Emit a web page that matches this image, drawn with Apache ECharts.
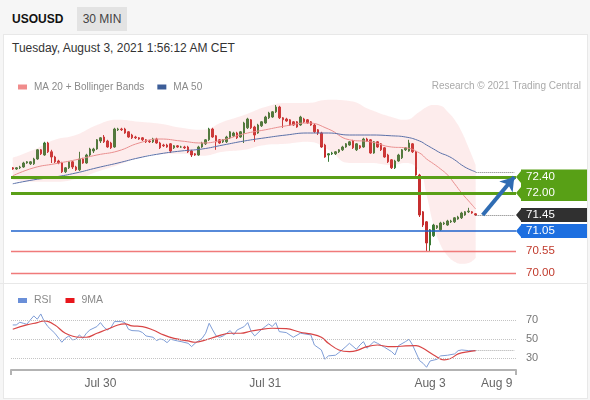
<!DOCTYPE html>
<html>
<head>
<meta charset="utf-8">
<title>USOUSD 30 MIN</title>
<script src="https://cdn.jsdelivr.net/npm/echarts@6.0.0/dist/echarts.min.js"></script>
<style>
  html, body { margin: 0; padding: 0; }
  body { width: 590px; height: 400px; position: relative; overflow: hidden; background: #f6f6f6;
         font-family: 'Liberation Sans', Arial, sans-serif; }
  .sym { position: absolute; left: 12px; top: 12px; font-size: 12px; font-weight: bold; color: #111; }
  .tf { position: absolute; left: 77px; top: 7px; width: 50px; height: 24px; line-height: 24px;
        text-align: center; background: #e3e3e3; color: #444; font-size: 12px; }
  .panel { position: absolute; left: 3px; top: 34px; width: 583px; height: 363px; background: #fff;
           border: 1px solid #e8e8e8; }
  .sep { position: absolute; left: 0; top: 283px; width: 587px; height: 1px; background: #e8e8e8; }
  .date { position: absolute; left: 12px; top: 41px; font-size: 12px; color: #333; }
  #chart { position: absolute; left: 0; top: 0; width: 590px; height: 400px; }
</style>
</head>
<body>
<div class="panel"></div>
<div class="sep"></div>
<div class="sym">USOUSD</div>
<div class="tf">30 MIN</div>
<div class="date">Tuesday, August 3, 2021 1:56:12 AM CET</div>
<div id="chart"></div>
<script>
// 30 min candles: [open, close, low, high]
const candles = [
  [72.63,72.60,72.58,72.65],[72.60,72.63,72.58,72.65],[72.63,72.65,72.60,72.68],[72.65,72.75,72.63,72.78],
  [72.75,72.78,72.73,72.80],[72.73,72.78,72.70,72.80],[72.73,72.85,72.70,72.88],[72.85,73.08,72.83,73.10],
  [73.08,72.98,72.95,73.10],[72.95,73.25,72.93,73.28],[73.25,73.03,73.00,73.28],[73.03,72.90,72.75,73.08],
  [72.90,72.78,72.75,72.93],[72.80,72.75,72.72,72.83],[72.75,72.53,72.50,72.78],[72.53,72.63,72.50,72.65],
  [72.63,72.78,72.60,72.80],[72.78,72.65,72.60,72.80],[72.65,72.58,72.55,72.68],[72.58,72.85,72.55,73.03],
  [72.85,72.75,72.73,72.88],[72.75,72.95,72.73,72.98],[72.95,73.10,72.90,73.13],[73.05,73.10,73.00,73.13],
  [73.10,73.33,73.08,73.35],[73.30,73.38,73.25,73.40],[73.40,73.28,73.25,73.45],[73.30,73.15,73.13,73.33],
  [73.25,73.13,73.10,73.28],[73.15,73.60,73.13,73.63],[73.58,73.60,73.55,73.63],[73.60,73.58,73.55,73.63],
  [73.60,73.50,73.48,73.63],[73.53,73.40,73.38,73.55],[73.45,73.38,73.35,73.48],[73.40,73.38,73.35,73.43],
  [73.38,73.35,73.33,73.40],[73.38,73.33,73.30,73.40],[73.33,73.28,73.25,73.35],[73.30,73.28,73.25,73.33],
  [73.28,73.35,73.25,73.38],[73.35,73.25,73.23,73.38],[73.25,73.13,73.10,73.28],[73.20,73.18,73.15,73.23],
  [73.20,73.15,73.13,73.23],[73.23,73.05,73.00,73.25],[73.13,73.18,73.10,73.20],[73.18,73.15,73.13,73.20],
  [73.15,73.15,73.13,73.18],[73.15,73.13,73.10,73.18],[73.15,73.03,73.00,73.18],[73.05,72.95,72.90,73.08],
  [72.98,72.95,72.93,73.00],[72.95,73.15,72.93,73.18],[73.15,73.25,73.13,73.28],[73.23,73.33,73.20,73.35],
  [73.33,73.60,73.30,73.63],[73.60,73.40,73.38,73.63],[73.43,73.28,73.08,73.45],[73.33,73.25,73.23,73.35],
  [73.28,73.33,73.25,73.35],[73.28,73.40,73.25,73.43],[73.38,73.53,73.35,73.55],[73.43,73.50,73.40,73.53],
  [73.50,73.38,73.35,73.53],[73.40,73.53,73.38,73.55],[73.50,73.75,73.25,73.78],[73.63,73.85,73.60,73.88],
  [73.83,73.63,73.60,73.85],[73.65,73.45,73.28,73.68],[73.50,73.70,73.48,73.73],[73.68,73.78,73.65,73.80],
  [73.75,73.90,73.73,73.93],[73.88,74.00,73.85,74.03],[73.90,74.03,73.88,74.05],[74.03,74.15,74.00,74.20],
  [74.15,73.88,73.85,74.18],[73.88,73.83,73.63,73.90],[73.85,73.80,73.78,73.88],[73.83,73.70,73.68,73.85],
  [73.78,73.70,73.68,73.80],[73.78,73.65,73.63,73.80],[73.70,73.90,73.68,73.93],[73.85,73.78,73.75,73.88],
  [73.83,73.75,73.73,73.85],[73.78,73.70,73.68,73.80],[73.70,73.53,73.50,73.73],[73.58,73.50,73.45,73.60],
  [73.50,73.15,73.13,73.53],[73.20,72.90,72.88,73.23],[72.95,72.98,72.78,73.00],[72.98,73.00,72.95,73.03],
  [72.98,73.03,72.95,73.05],[73.03,73.08,73.00,73.10],[73.08,73.15,73.05,73.18],[73.15,73.23,73.13,73.25],
  [73.20,73.28,73.18,73.30],[73.30,73.13,73.10,73.33],[73.08,73.23,73.05,73.25],[73.18,73.13,73.10,73.20],
  [73.15,73.35,73.13,73.38],[73.35,73.30,73.28,73.38],[73.33,73.00,72.98,73.35],[73.00,73.28,72.98,73.30],
  [73.28,73.15,73.13,73.30],[73.23,73.08,73.05,73.25],[73.13,72.90,72.88,73.15],[72.95,72.78,72.75,72.98],
  [72.83,72.63,72.60,72.85],[72.63,72.80,72.60,72.83],[72.80,72.95,72.78,72.98],[72.88,73.08,72.85,73.10],
  [73.08,73.13,73.05,73.15],[73.05,73.25,73.03,73.33],[73.23,73.03,73.00,73.25],[73.03,72.45,72.43,73.05],
  [72.45,71.45,71.40,72.48],[71.53,71.20,71.15,71.55],[71.28,70.75,70.53,71.30],[70.70,71.08,70.53,71.10],
  [70.93,71.20,70.90,71.23],[71.13,71.18,71.10,71.20],[71.08,71.25,71.05,71.28],[71.23,71.25,71.20,71.28],
  [71.20,71.30,71.18,71.33],[71.28,71.30,71.25,71.33],[71.28,71.38,71.25,71.40],[71.35,71.40,71.33,71.43],
  [71.38,71.50,71.35,71.53],[71.45,71.53,71.43,71.55],[71.53,71.55,71.50,71.63],[71.53,71.50,71.48,71.55],
  [71.48,71.45,71.43,71.50]
];

// indicator readings, taken at these candle positions
const maIdx   = [0,6,12,18,24,30,36,42,48,54,60,66,72,78,84,90,96,102,108,112,116,118,120,122,124,126,128,130,132];
const ma20    = [72.43,72.63,72.73,72.83,72.95,73.05,73.25,73.35,73.30,73.25,73.33,73.48,73.58,73.68,73.75,73.60,73.33,73.28,73.15,73.13,73.00,72.85,72.73,72.60,72.45,72.23,72.00,71.80,71.60];
const ma50    = [72.23,72.33,72.40,72.50,72.63,72.75,72.88,72.98,73.05,73.10,73.20,73.30,73.38,73.45,73.50,73.50,73.45,73.45,73.43,73.40,73.30,73.20,73.10,73.00,72.93,72.83,72.70,72.60,72.53];
const bbUpper = [72.88,73.08,73.33,73.45,73.70,73.83,73.78,73.73,73.63,73.58,73.78,73.95,74.15,74.25,74.25,74.33,74.30,74.08,73.90,73.83,74.03,74.15,74.20,74.18,74.03,73.83,73.53,73.13,72.70];
const bbLower = [72.33,72.28,72.28,72.35,72.53,72.70,72.88,72.98,72.98,72.93,73.03,73.08,73.20,73.23,73.28,73.08,72.75,72.75,72.70,72.75,72.53,71.95,71.20,70.70,70.43,70.28,70.23,70.25,70.38];

const rsiIdx = [0,1,2,3,4,5,6,7,8,9,10,12,14,15,16,17,18,19,20,21,22,24,25,26,27,28,29,31,32,33,34,36,37,38,40,41,42,43,44,45,47,48,50,51,52,54,55,56,57,58,59,60,62,63,64,66,67,68,69,71,72,73,74,75,76,78,80,82,85,86,88,89,90,92,93,95,96,98,99,100,101,103,104,106,108,109,110,112,113,114,116,117,118,119,121,122,124,126,127,128,130,132];
const rsi    = [65.2,65.2,68.1,67.0,65.9,70.5,74.8,71.3,76.9,68.8,63.5,56.4,46.8,51.0,53.5,49.3,50.0,54.6,51.0,56.4,59.9,63.5,67.7,62.8,59.9,62.4,68.8,68.8,67.7,60.6,59.2,58.8,57.1,53.5,52.1,48.6,50.3,49.3,46.4,50.0,48.2,47.5,45.7,42.2,45.7,51.0,56.4,67.0,59.9,53.5,52.1,53.5,59.2,54.6,59.9,63.5,67.7,58.1,53.5,60.6,63.5,66.3,63.5,67.7,58.1,57.1,52.1,56.4,54.6,43.9,38.6,28.7,32.3,33.0,35.8,42.2,45.7,39.3,43.9,47.5,40.4,47.5,45.7,41.5,36.9,33.3,43.2,47.5,50.0,43.9,27.3,24.4,20.2,26.9,28.7,32.3,33.0,34.4,37.9,38.6,37.9,37.9];
const ma9Idx = [0,4,7,9,12,15,19,21,24,27,30,32,34,37,40,43,46,50,52,55,58,62,65,68,70,74,78,82,85,88,90,93,96,98,101,104,107,109,112,115,117,120,123,125,127,130,132];
const rsiMa9 = [60.6,65.2,67.7,69.5,65.2,56.4,52.1,52.1,56.4,60.6,65.2,66.3,64.2,63.5,59.9,54.6,51.0,48.2,46.8,49.3,52.8,56.4,56.4,58.8,59.9,61.7,61.3,57.4,55.7,52.1,45.7,38.6,36.9,37.9,42.2,43.9,42.2,42.2,42.9,43.2,40.4,33.3,28.0,29.8,34.4,36.9,37.9];

// key levels
const resist = [72.40, 72.00];
const pivot = 71.45;
const support1 = 71.05;
const support2 = [70.55, 70.00];
const rsiLevels = [70, 50, 30];

// x axis: candle slots incl. future space, labelled days
const slotCount = 144;
const dayIdx = [25, 72, 119, 138];
const dayText = ['Jul 30', 'Jul 31', 'Aug 3', 'Aug 9'];

const GRID_L = 11, GRID_R = 74;
const FONT = "'Liberation Sans', Arial, sans-serif";

const cats = [];
for (let i = 0; i < slotCount; i++) cats.push(String(i));
const labelAt = {};
dayIdx.forEach((d, k) => { labelAt[d] = dayText[k]; });

const pairs = (idx, vals) => idx.map((x, k) => [x, vals[k]]);
const bbWidth = bbUpper.map((u, k) => +(u - bbLower[k]).toFixed(3));
const lastIdx = candles.length - 1;
const lastClose = candles[lastIdx][1];
const lastIdxEnd = slotCount - 1;

const chart = echarts.init(document.getElementById('chart'));

chart.setOption({
  animation: false,
  textStyle: { fontFamily: FONT },
  grid: [
    { left: GRID_L, right: GRID_R, top: 95, height: 185 },
    { left: GRID_L, right: GRID_R, top: 302, height: 68 }
  ],
  legend: [
    {
      left: 13, top: 77, itemWidth: 9, itemHeight: 5, itemGap: 13, icon: 'rect', selectedMode: false,
      textStyle: { color: '#8a8a8a', fontSize: 10, padding: [0, 0, 0, 2] },
      data: [
        { name: 'MA 20 + Bollinger Bands', itemStyle: { color: '#f08c8c' } },
        { name: 'MA 50', itemStyle: { color: '#3c5d98' } }
      ]
    },
    {
      left: 13, top: 290, itemWidth: 9, itemHeight: 5, itemGap: 14, icon: 'rect', selectedMode: false,
      textStyle: { color: '#8a8a8a', fontSize: 10.5, padding: [0, 0, 0, 2] },
      data: [
        { name: 'RSI', itemStyle: { color: '#6a8fd8' } },
        { name: '9MA', itemStyle: { color: '#e8161c' } }
      ]
    }
  ],
  xAxis: [
    { type: 'category', gridIndex: 0, data: cats, boundaryGap: true, show: false },
    {
      type: 'category', gridIndex: 1, data: cats, boundaryGap: true,
      axisLine: { lineStyle: { color: '#b3b3b3', width: 2 } },
      axisTick: { show: true, interval: (i) => i === 0, length: 5, lineStyle: { color: '#b3b3b3', width: 2 } },
      axisLabel: {
        interval: (i) => labelAt[i] !== undefined,
        formatter: (v, i) => labelAt[i] || '',
        color: '#666', fontSize: 12, margin: 8
      }
    }
  ],
  yAxis: [
    { type: 'value', gridIndex: 0, min: 69.825, max: 74.45, show: false },
    { type: 'value', gridIndex: 1, min: 17.3, max: 89.6, show: false }
  ],
  series: [
    {
      name: 'bbLower', type: 'line', stack: 'bb', data: pairs(maIdx, bbLower), smooth: true,
      symbol: 'none', lineStyle: { opacity: 0 }, silent: true
    },
    {
      name: 'bbBand', type: 'line', stack: 'bb', data: pairs(maIdx, bbWidth), smooth: true,
      symbol: 'none', lineStyle: { opacity: 0 }, areaStyle: { color: 'rgba(240,120,120,0.2)' }, silent: true
    },
    {
      name: 'MA 20 + Bollinger Bands', type: 'line', data: pairs(maIdx, ma20), smooth: true,
      symbol: 'none', lineStyle: { color: '#e98f8f', width: 1 }
    },
    {
      name: 'MA 50', type: 'line', data: pairs(maIdx, ma50), smooth: true,
      symbol: 'none', lineStyle: { color: '#5a70a8', width: 1 },
      markLine: {
        silent: true, symbol: 'none', label: { show: false },
        lineStyle: { color: '#f07a7a', width: 1.3, type: 'solid', opacity: 1 },
        data: support2.map(v => ({ yAxis: v }))
      }
    },
    {
      name: 'USOUSD', type: 'candlestick', data: candles, barWidth: 2,
      itemStyle: {
        color: '#3b7a35', color0: '#c62f2f', borderColor: '#3b7a35', borderColor0: '#c62f2f', borderWidth: 1
      },
      markLine: {
        silent: true, symbol: 'none', label: { show: false },
        data: [
          { yAxis: resist[0], lineStyle: { color: '#5a9f17', width: 3, type: 'solid' } },
          { yAxis: resist[1], lineStyle: { color: '#5a9f17', width: 3, type: 'solid' } },
          { yAxis: support1, lineStyle: { color: '#1f63cc', width: 1.5, type: 'solid' } },
          [
            { coord: [lastIdx, lastClose], lineStyle: { color: '#777', width: 1, type: 'dotted' } },
            { coord: [lastIdxEnd, lastClose] }
          ],
          [
            { coord: [lastIdx, ma50[ma50.length - 1]], lineStyle: { color: '#777', width: 1, type: 'dotted' } },
            { coord: [lastIdxEnd, ma50[ma50.length - 1]] }
          ],
          [
            { coord: [lastIdx + 2, lastClose], symbol: 'none', lineStyle: { color: '#2f6cb3', width: 4, type: 'solid' } },
            { coord: [lastIdxEnd, resist[0]], symbol: 'arrow', symbolSize: [13, 13] }
          ]
        ]
      }
    },
    {
      name: 'RSI', type: 'line', xAxisIndex: 1, yAxisIndex: 1, data: pairs(rsiIdx, rsi),
      symbol: 'none', lineStyle: { color: '#7f9dd6', width: 1 },
      markLine: {
        silent: true, symbol: 'none',
        data: rsiLevels.map(v => ({
          yAxis: v, lineStyle: { color: '#c4c4c4', width: 1, type: 'dotted' },
          label: { show: true, position: 'end', formatter: String(v), color: '#777', fontSize: 11, distance: 10 }
        })).concat([[
          { coord: [lastIdx, rsi[rsi.length - 1]], lineStyle: { color: '#aaa', width: 1, type: 'dotted' }, label: { show: false } },
          { coord: [lastIdxEnd, rsi[rsi.length - 1]] }
        ]])
      }
    },
    {
      name: '9MA', type: 'line', xAxisIndex: 1, yAxisIndex: 1, data: pairs(ma9Idx, rsiMa9), smooth: 0.4,
      symbol: 'none', lineStyle: { color: '#d84545', width: 1.2 }
    }
  ]
});

// price tags on the right, placed with the chart's own y scale
const yOf = (v) => chart.convertToPixel({ yAxisIndex: 0 }, v);
const tipX = chart.getWidth() - GRID_R;
const boxL = tipX + 5, boxR = 587;

function tag(top, bottom, tips) {
  const pts = [[boxL, top], [boxR, top], [boxR, bottom], [boxL, bottom]];
  tips.slice().sort((a, b) => b - a).forEach(y => {
    pts.push([boxL, y + 6], [tipX, y], [boxL, y - 6]);
  });
  return pts;
}
function txt(y, s, color) {
  return { type: 'text', x: boxL + 5, y: y, style: { text: s, fill: color, font: '11.5px ' + FONT, verticalAlign: 'middle' }, z: 10 };
}

const yR0 = yOf(resist[0]), yR1 = yOf(resist[1]), yP = yOf(pivot), yS1 = yOf(support1);
chart.setOption({
  graphic: [
    { type: 'text', right: 9, top: 81, style: { text: 'Research © 2021 Trading Central', fill: '#aaa', font: '10px ' + FONT } },
    { type: 'polygon', shape: { points: tag(yR0 - 7.5, yR1 + 8, [yR0, yR1]) }, style: { fill: '#58a016' }, z: 9 },
    { type: 'polygon', shape: { points: tag(yP - 7, yP + 7, [yP]) }, style: { fill: '#303030' }, z: 9 },
    { type: 'polygon', shape: { points: tag(yS1 - 7, yS1 + 7, [yS1]) }, style: { fill: '#1d6fe0' }, z: 9 },
    txt(yR0, resist[0].toFixed(2), '#fff'),
    txt(yR1, resist[1].toFixed(2), '#fff'),
    txt(yP, pivot.toFixed(2), '#fff'),
    txt(yS1, support1.toFixed(2), '#fff'),
    txt(yOf(support2[0]), support2[0].toFixed(2), '#c0392b'),
    txt(yOf(support2[1]), support2[1].toFixed(2), '#c0392b')
  ]
});
</script>
</body>
</html>
